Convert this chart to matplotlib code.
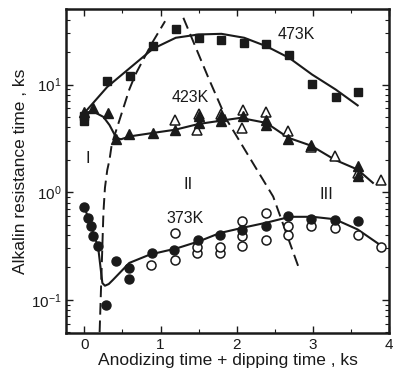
import numpy as np
import matplotlib
matplotlib.use("Agg")
from matplotlib import pyplot as plt
from matplotlib.ticker import LogLocator, MultipleLocator, NullFormatter

plt.rcParams['font.family'] = ['Liberation Sans', 'DejaVu Sans']
plt.rcParams['mathtext.fontset'] = 'custom'
plt.rcParams['mathtext.rm'] = 'Liberation Sans'
plt.rcParams['mathtext.it'] = 'Liberation Sans:italic'
plt.rcParams['mathtext.bf'] = 'Liberation Sans:bold'

# 473 K, filled squares
sq_x = [0.0, 0.0, 0.30, 0.60, 0.90, 1.20, 1.50, 1.80, 2.10, 2.39, 2.69, 2.99, 3.30, 3.60]
sq_y = [5.1, 4.6, 10.9, 12.1, 22.7, 33.0, 27.2, 26.2, 24.4, 23.9, 19.0, 10.1, 7.6, 8.5]
fit473_x = [-0.02, 0.30, 0.60, 0.90, 1.20, 1.50, 1.80, 2.10, 2.39, 2.69, 2.99, 3.30, 3.59]
fit473_y = [5.25, 9.5, 14.3, 21.5, 27.2, 29.2, 29.6, 27.2, 22.7, 17.7, 12.4, 9.0, 6.4]

# 423 K, filled and open triangles
tf_x = [0.0, 0.115, 0.31, 0.42, 0.59, 0.90, 1.19, 1.50, 1.50, 1.80, 1.80, 2.08, 2.39, 2.39,
        2.68, 2.98, 3.59, 3.59]
tf_y = [5.6, 6.1, 5.45, 3.1, 3.45, 3.55, 3.75, 4.4, 5.1, 4.6, 5.1, 5.1, 4.7, 4.25,
        3.1, 2.75, 1.75, 1.4]
to_x = [1.19, 1.50, 1.48, 1.80, 2.09, 2.07, 2.39, 2.68, 2.98, 3.29, 3.59, 3.90]
to_y = [4.7, 5.3, 3.8, 5.3, 5.85, 3.95, 5.6, 3.7, 2.6, 2.15, 1.5, 1.31]
fit423_x = [0.0, 0.12, 0.25, 0.33, 0.38, 0.42, 0.48, 0.60, 0.90, 1.19, 1.50, 1.87, 2.05,
            2.39, 2.68, 2.98, 3.29, 3.59, 3.79]
fit423_y = [5.5, 5.6, 5.0, 4.2, 3.6, 3.2, 3.1, 3.3, 3.55, 3.8, 4.3, 4.7, 4.9,
            4.4, 3.2, 2.7, 2.0, 1.62, 1.22]

# 373 K, filled and open circles
cf_x = [0.0, 0.05, 0.09, 0.11, 0.18, 0.29, 0.41, 0.59, 0.59, 0.89, 1.18, 1.49, 1.78, 2.07,
        2.39, 2.68, 2.98, 3.29, 3.59]
cf_y = [0.72, 0.575, 0.48, 0.39, 0.313, 0.09, 0.227, 0.197, 0.156, 0.272, 0.29, 0.361, 0.40,
        0.448, 0.48, 0.596, 0.566, 0.55, 0.537]
co_x = [0.87, 1.19, 1.19, 1.48, 1.48, 1.78, 1.78, 2.07, 2.07, 2.07, 2.39, 2.39, 2.68, 2.68,
        2.98, 3.29, 3.59, 3.90]
co_y = [0.212, 0.235, 0.42, 0.272, 0.31, 0.272, 0.31, 0.313, 0.39, 0.537, 0.36, 0.64, 0.40, 0.48,
        0.48, 0.46, 0.40, 0.31]
fit373_x = [0.0, 0.05, 0.10, 0.18, 0.236, 0.27, 0.32, 0.375, 0.59, 0.86, 1.21, 1.51, 1.78,
            2.10, 2.39, 2.70, 3.00, 3.29, 3.59, 3.88]
fit373_y = [0.72, 0.58, 0.45, 0.31, 0.143, 0.135, 0.14, 0.153, 0.22, 0.263, 0.30, 0.35, 0.417,
            0.47, 0.52, 0.59, 0.59, 0.56, 0.45, 0.325]

# dashed region boundaries
bdA_x = [0.20, 0.235, 0.25, 0.27, 0.30, 0.33, 0.36, 0.59, 0.67, 0.89, 1.06]
bdA_y = [0.05, 0.3, 0.65, 1.1, 1.6, 2.0, 2.8, 9.0, 12.4, 24.4, 38.8]
bdB_x = [1.30, 1.63, 1.87, 2.48, 2.81]
bdB_y = [41.7, 11.5, 4.7, 0.91, 0.204]

ink = '#1a1a1a'
fig = plt.figure(figsize=(3.96, 3.73), dpi=100)
ax = fig.add_axes([0.167, 0.107, 0.815, 0.868])

ax.plot(bdA_x, bdA_y, ls=(0, (6, 3)), color=ink, lw=1.4)
ax.plot(bdB_x, bdB_y, ls=(0, (6, 3)), color=ink, lw=1.4)

ax.plot(fit473_x, fit473_y, color=ink, lw=1.5)
ax.plot(fit423_x, fit423_y, color=ink, lw=1.5)
ax.plot(fit373_x, fit373_y, color=ink, lw=1.5)

ax.plot(sq_x, sq_y, 's', ms=6, color=ink, mec=ink)
ax.plot(to_x, to_y, '^', ms=7, mfc='white', mec=ink, mew=1.1)
ax.plot(tf_x, tf_y, '^', ms=7, color=ink, mec=ink)
ax.plot(co_x, co_y, 'o', ms=6.5, mfc='white', mec=ink, mew=1.1)
ax.plot(cf_x, cf_y, 'o', ms=6.5, color=ink, mec=ink)

ax.text(2.79, 29, '473K', fontsize=11.5, ha='center', va='center', color=ink)
ax.text(1.39, 7.6, '423K', fontsize=11.5, ha='center', va='center', color=ink)
ax.text(1.32, 0.57, '373K', fontsize=11.5, ha='center', va='center', color=ink)
ax.text(0.04, 2.05, 'I', fontsize=12, ha='center', va='center', color=ink)
ax.text(1.36, 1.17, 'II', fontsize=12, ha='center', va='center', color=ink)
ax.text(3.18, 0.95, 'III', fontsize=12, ha='center', va='center', color=ink)

ax.set_yscale('log')
ax.set_xlim(-0.24, 4.0)
ax.set_ylim(0.049, 50)
ax.xaxis.set_major_locator(MultipleLocator(1))
ax.xaxis.set_minor_locator(MultipleLocator(0.5))
ax.yaxis.set_major_locator(LogLocator(base=10, numticks=10))
ax.yaxis.set_minor_locator(LogLocator(base=10, subs=np.arange(2, 10), numticks=20))
ax.yaxis.set_minor_formatter(NullFormatter())
ax.tick_params(which='both', direction='in', top=True, right=True, colors=ink,
               labelsize=11, labelcolor=ink)
ax.tick_params(which='major', length=5, width=1)
ax.tick_params(which='minor', length=3, width=0.8)
for s in ax.spines.values():
    s.set_linewidth(1.8)
    s.set_color(ink)

ax.set_xlabel('Anodizing time + dipping time , ks', fontsize=12.5, color=ink, labelpad=1)
ax.set_ylabel('Alkalin resistance time , ks', fontsize=12.5, color=ink, labelpad=2)

fig.savefig('out.png', dpi=100)
